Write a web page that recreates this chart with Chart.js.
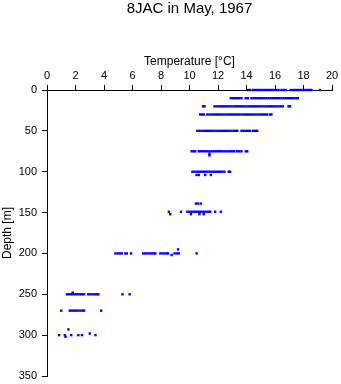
<!DOCTYPE html>
<html lang="en">
<head>
  <meta charset="UTF-8">
  <title>8JAC in May, 1967</title>
  <script src="https://cdn.jsdelivr.net/npm/chart.js"></script>
  <style>
    body { margin: 0; background: #fff; }
    .wrap { width: 341px; height: 384px; }
  </style>
</head>
<body>
  <div class="wrap"><canvas id="grafico" width="341" height="384"></canvas></div>

<script>
// temperature readings (°C) per sampled depth (m)
const depths = [0, 10, 20, 30, 50, 75, 78, 80, 100, 104, 139, 149, 152, 195, 200, 202, 248, 250, 270, 293, 298, 300, 302];

const t0   = [14.1, 14.25, 14.45, 14.6, 14.75, 14.9, 15.05, 15.2, 15.35, 15.5, 15.65, 15.8, 15.95, 16.1, 16.25, 16.45, 16.6, 16.75, 17.1, 17.25, 17.4, 17.55, 17.7, 17.85, 18.0, 18.15, 18.3, 18.45, 18.55, 19.15];
const t10  = [12.9, 13.05, 13.2, 13.35, 13.5, 13.65, 13.95, 14.1, 14.35, 14.5, 14.65, 14.8, 14.95, 15.1, 15.25, 15.4, 15.55, 15.7, 15.85, 16.0, 16.15, 16.3, 16.45, 16.6, 16.75, 16.9, 17.05, 17.2, 17.35, 17.5, 17.6];
const t20  = [10.95, 11.05, 11.75, 11.9, 12.05, 12.2, 12.35, 12.5, 12.65, 12.8, 12.95, 13.1, 13.25, 13.4, 13.55, 13.7, 13.85, 14.0, 14.15, 14.3, 14.45, 14.6, 14.75, 14.9, 15.05, 15.2, 15.35, 15.5, 15.65, 15.8, 15.95, 16.1, 16.25, 16.4, 16.55, 16.95, 17.05];
const t30  = [10.75, 10.9, 11.0, 11.25, 11.4, 11.55, 11.7, 11.85, 12.0, 12.15, 12.3, 12.45, 12.6, 12.75, 12.9, 13.05, 13.2, 13.35, 13.5, 13.65, 13.8, 13.95, 14.1, 14.25, 14.4, 14.55, 14.7, 14.85, 15.0, 15.15, 15.3, 15.45, 15.65, 15.75];
const t50  = [10.55, 10.7, 10.85, 11.0, 11.15, 11.3, 11.45, 11.6, 11.75, 11.9, 12.05, 12.2, 12.35, 12.5, 12.65, 12.8, 12.95, 13.1, 13.25, 13.35, 13.65, 13.8, 13.95, 14.1, 14.25, 14.45, 14.6, 14.75];
const t75  = [10.15, 10.3, 10.4, 10.65, 10.8, 10.95, 11.1, 11.25, 11.4, 11.55, 11.7, 11.85, 12.0, 12.15, 12.3, 12.45, 12.6, 12.75, 12.9, 13.05, 13.15, 13.35, 13.5, 13.65, 13.95, 14.05];
const t78  = [11.4];
const t80  = [11.4];
const t100 = [10.2, 10.35, 10.5, 10.65, 10.8, 10.95, 11.1, 11.25, 11.4, 11.55, 11.7, 11.85, 12.0, 12.15, 12.3, 12.45, 12.75, 12.85];
const t104 = [10.5, 10.65, 11.1, 11.5];
const t139 = [10.45, 10.6, 10.8];
const t149 = [8.55, 9.4, 9.85, 10.0, 10.15, 10.3, 10.45, 10.6, 10.75, 10.9, 11.05, 11.2, 11.35, 11.45, 11.8, 12.2];
const t152 = [8.65, 10.1, 10.7, 11.0];
const t195 = [9.2];
const t200 = [4.8, 4.95, 5.1, 5.25, 5.5, 5.6, 5.9, 6.75, 6.9, 7.05, 7.2, 7.35, 7.5, 7.6, 7.95, 8.1, 8.25, 8.4, 8.5, 8.95, 9.1, 9.25, 10.5];
const t202 = [8.75];
const t248 = [1.8];
const t250 = [1.4, 1.55, 1.7, 1.85, 2.0, 2.15, 2.3, 2.45, 2.6, 2.9, 3.05, 3.2, 3.35, 3.5, 3.6, 5.3, 5.8];
const t270 = [1.0, 1.6, 1.75, 1.9, 2.05, 2.2, 2.35, 2.5, 2.6, 3.8];
const t293 = [1.5];
const t298 = [3.0];
const t300 = [0.85, 1.25, 1.7, 2.2, 2.45, 3.4];
const t302 = [1.3];

const temps = [t0, t10, t20, t30, t50, t75, t78, t80, t100, t104, t139, t149, t152, t195, t200, t202, t248, t250, t270, t293, t298, t300, t302];

const xTicks = [0, 2, 4, 6, 8, 10, 12, 14, 16, 18, 20];
const yTicks = [0, 50, 100, 150, 200, 250, 300, 350];

const punti = [];
depths.forEach((d, i) => temps[i].forEach(t => punti.push({ x: t, y: d })));

const font = "'Liberation Sans', Arial, Helvetica, sans-serif";

new Chart(document.getElementById('grafico'), {
  type: 'scatter',
  data: {
    datasets: [{
      data: punti,
      pointStyle: 'rect',
      pointRadius: 1.7,
      pointBorderWidth: 0,
      backgroundColor: '#0000ff',
      borderColor: '#0000ff',
      clip: false
    }]
  },
  options: {
    responsive: false,
    animation: false,
    events: [],
    layout: { padding: { top: 0, left: 0, right: 9, bottom: 8 } },
    plugins: {
      legend: { display: false },
      tooltip: { enabled: false },
      title: {
        display: true,
        fullSize: false,
        text: '8JAC in May, 1967',
        color: '#000',
        font: { family: font, size: 15, weight: 'normal' },
        padding: { top: 0, bottom: 0 }
      }
    },
    scales: {
      x: {
        type: 'linear',
        position: 'top',
        min: 0, max: 20,
        afterBuildTicks: s => { s.ticks = xTicks.map(v => ({ value: v })); },
        afterFit: s => { s.height = 72; s.paddingLeft = 0; s.paddingRight = 0; },
        grid: { drawOnChartArea: false, drawTicks: true, tickLength: 5, color: '#000' },
        border: { display: true, color: '#000' },
        ticks: { color: '#000', padding: 2, maxRotation: 0, font: { family: font, size: 11 } },
        title: {
          display: true, text: 'Temperature [°C]', color: '#000',
          font: { family: font, size: 12 }, padding: { top: 36, bottom: 0 }
        }
      },
      y: {
        type: 'linear',
        reverse: true,
        min: 0, max: 350,
        afterBuildTicks: s => { s.ticks = yTicks.map(v => ({ value: v })); },
        afterFit: s => { s.width = 47; s.paddingTop = 0; s.paddingBottom = 0; },
        grid: { drawOnChartArea: false, drawTicks: true, tickLength: 5, color: '#000' },
        border: { display: true, color: '#000' },
        ticks: { color: '#000', padding: 5, font: { family: font, size: 11 } },
        title: {
          display: true, text: 'Depth [m]', color: '#000',
          font: { family: font, size: 12 }, padding: { top: 0, bottom: 0 }
        }
      }
    }
  }
});
</script>
</body>
</html>
